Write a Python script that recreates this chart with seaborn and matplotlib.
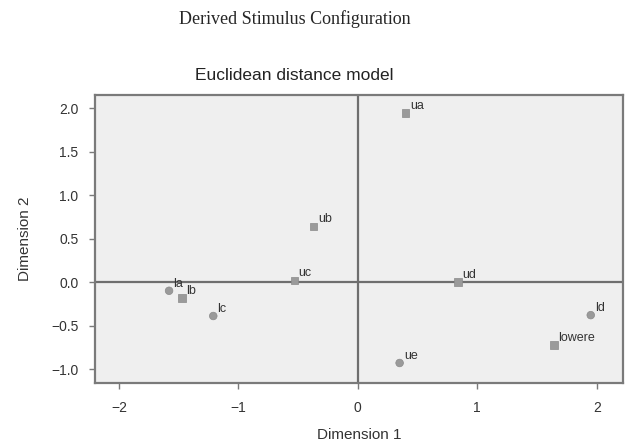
import numpy as np
import pandas as pd
import matplotlib.pyplot as plt
import seaborn as sns

# stimulus coordinates
labels = ["ua", "ub", "uc", "ud", "ue", "la", "lb", "lc", "ld", "lowere"]
dim1 = [0.40, -0.37, -0.53, 0.84, 0.35, -1.58, -1.47, -1.21, 1.95, 1.64]
dim2 = [1.94, 0.64, 0.02, 0.00, -0.93, -0.10, -0.18, -0.39, -0.38, -0.72]
shape = ["sq", "sq", "sq", "sq", "ci", "ci", "sq", "ci", "ci", "sq"]

x_ticks = [-2, -1, 0, 1, 2]
y_ticks = [-1.0, -0.5, 0.0, 0.5, 1.0, 1.5, 2.0]

df = pd.DataFrame({"label": labels, "Dimension 1": dim1,
                   "Dimension 2": dim2, "shape": shape})

sns.set_style("white")
plt.rcParams["font.family"] = ["Liberation Sans", "DejaVu Sans"]

fig = plt.figure(figsize=(6.31, 4.48), dpi=100)
ax = fig.add_axes([95 / 631, 1 - 383 / 448, (623 - 95) / 631, (383 - 95) / 448])
ax.set_facecolor("#efefef")

ax.axhline(0, color="#6e6e6e", lw=1.6, zorder=1)
ax.axvline(0, color="#6e6e6e", lw=1.6, zorder=1)

sns.scatterplot(data=df, x="Dimension 1", y="Dimension 2", style="shape",
                markers={"sq": "s", "ci": "o"}, color="#9a9a9a", s=30,
                edgecolor="#8a8a8a", linewidth=0.5, legend=False, ax=ax, zorder=3)

for _, r in df.iterrows():
    ax.annotate(r["label"], (r["Dimension 1"], r["Dimension 2"]),
                xytext=(3, 3), textcoords="offset points", fontsize=9,
                color="#333333")

ax.set_xlim(-2.2, 2.22)
ax.set_ylim(-1.16, 2.15)
ax.set_xticks(x_ticks)
ax.set_xticklabels(["\u22122", "\u22121", "0", "1", "2"])
ax.set_yticks(y_ticks)
ax.set_yticklabels([f"{v:.1f}".replace("-", "\u2212") for v in y_ticks])
ax.tick_params(direction="out", length=4, width=1, color="#7a7a7a",
               labelsize=10, labelcolor="#333333", bottom=True, left=True)
ax.tick_params(axis="x", pad=9)
ax.tick_params(axis="y", pad=8)
for sp in ax.spines.values():
    sp.set_color("#7a7a7a")
    sp.set_linewidth(1.6)

ax.set_xlabel("Dimension 1", fontsize=11, color="#333333", labelpad=9)
ax.set_ylabel("Dimension 2", fontsize=11, color="#333333", labelpad=14)

fig.text(294 / 631, 1 - 75 / 448, "Euclidean distance model",
         fontsize=12.5, color="#222222", ha="center", va="center")
fig.text(295 / 631, 1 - 19 / 448, "Derived Stimulus Configuration",
         family="Liberation Serif", fontsize=13, ha="center", va="center")

fig.savefig("out.png", dpi=100)
